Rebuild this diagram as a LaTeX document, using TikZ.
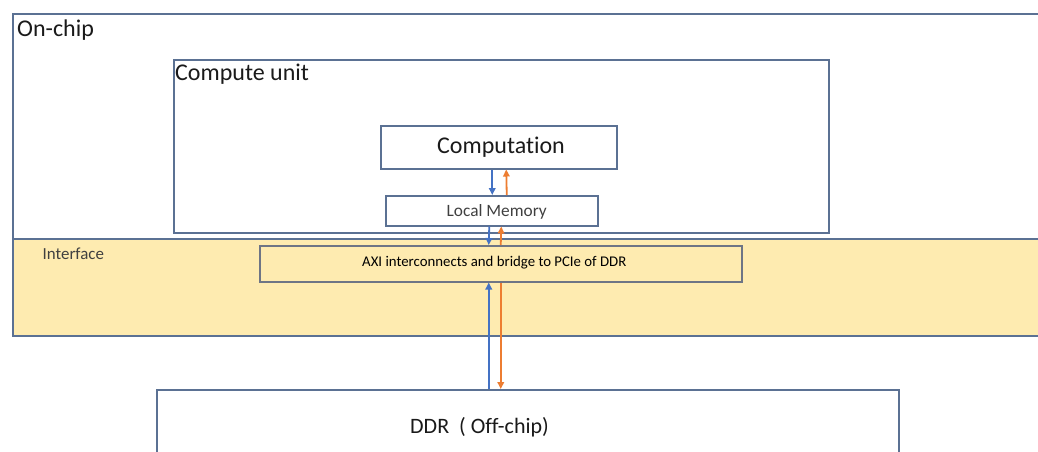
\documentclass[tikz,border=0pt]{standalone}
\usepackage{fontspec}
\setmainfont{Carlito}[Ligatures=NoCommon]
\usetikzlibrary{arrows.meta}
\definecolor{edge}{HTML}{5B7193}
\definecolor{axiedge}{HTML}{6E7585}
\definecolor{band}{HTML}{FEEBB0}
\definecolor{arrblue}{HTML}{4472C4}
\definecolor{arrorange}{HTML}{ED7D31}
\definecolor{txt}{HTML}{1A1A1A}
\definecolor{greytxt}{HTML}{404040}
\begin{document}
\begin{tikzpicture}[x=1pt,y=-1pt,
  box/.style={draw=edge,line width=1.5pt,inner sep=0pt,anchor=north west},
  lbl/.style={inner sep=0pt,text=txt,anchor=base west},
  bluearr/.style={draw=arrblue,line width=1.8pt,-{Triangle[length=7pt,width=6.5pt]}},
  orangearr/.style={draw=arrorange,line width=1.8pt,-{Triangle[length=7pt,width=6.5pt]}}]
\useasboundingbox (0,0) rectangle (1038,451);
\clip (0,0) rectangle (1038,451);
\fill[white] (0,0) rectangle (1038,451);
% boxes
\node[box,minimum width=1040pt,minimum height=322pt] (onchip) at (12,13) {};
\node[box,minimum width=655pt,minimum height=173pt] (cu) at (173,59) {};
\node[box,fill=band,minimum width=1040pt,minimum height=97pt] (band) at (12,238) {};
\node[box,minimum width=236pt,minimum height=43pt] (comp) at (380,125) {};
\node[box,minimum width=212pt,minimum height=30pt] (lm) at (385,195) {};
\node[box,draw=axiedge,minimum width=482pt,minimum height=36pt] (axi) at (259,245) {};
\node[box,minimum width=742pt,minimum height=100pt] (ddr) at (156,389) {};
% labels
\node[lbl,font=\fontsize{24}{28}\selectfont] (tonchip) at (17,36) {On-chip};
\node[lbl,font=\fontsize{24}{28}\selectfont] (tcu) at (175,80) {Compute unit};
\node[lbl,font=\fontsize{24}{28}\selectfont] (tcomp) at (437,153) {Computation};
\node[lbl,text=greytxt,font=\fontsize{17.3}{20}\selectfont] (tlm) at (446.5,216) {Local Memory};
\node[lbl,text=black,font=\fontsize{14.8}{18}\selectfont] (taxi) at (362,266) {AXI interconnects and bridge to PCIe of DDR};
\node[lbl,text=greytxt,font=\fontsize{16.9}{20}\selectfont] (tif) at (42.5,259.5) {Interface};
\node[lbl,font=\fontsize{22}{26}\selectfont] (tddr) at (410,433) {DDR\ \ ( Off-chip)};
% arrow anchor points
\coordinate (ablue) at ([xshift=-12pt]axi.south);
\coordinate (aorange) at (axi.south);
% arrows
\draw[bluearr] ([xshift=-6.5pt]comp.south) -- ([xshift=0.5pt]lm.north);
\draw[orangearr] ([xshift=15pt]lm.north) -- ([xshift=7.5pt]comp.south);
\draw[bluearr] ([xshift=-2.5pt]lm.south) -- ([xshift=-12pt]axi.north);
\draw[orangearr] (axi.north) -- ([xshift=9.5pt]lm.south);
\draw[bluearr] (ablue |- ddr.north) -- (ablue);
\draw[orangearr] (aorange) -- (aorange |- ddr.north);
\end{tikzpicture}
\end{document}
